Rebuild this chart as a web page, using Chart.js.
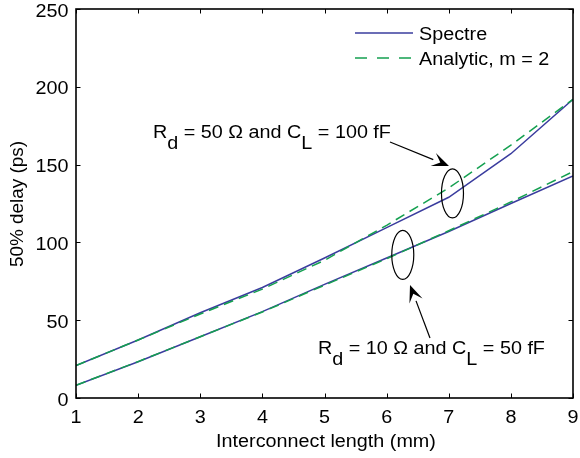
<!DOCTYPE html>
<html>
<head>
<meta charset="utf-8">
<script src="https://cdn.jsdelivr.net/npm/chart.js@4.4.0/dist/chart.umd.min.js"></script>
<style>
  html, body { margin: 0; padding: 0; background: #fff; }
  #wrap { width: 580px; height: 458px; }
</style>
</head>
<body>
<div id="wrap"><canvas id="myChart" width="580" height="458"></canvas></div>
<script>
// interconnect length (mm)
const lengths = [1, 2, 3, 4, 5, 6, 7, 8, 9];
// Rd = 50 ohm, CL = 100 fF
const spectreHigh = [20.8, 37.3, 54.8, 71, 90, 109.5, 129, 157, 192];
const analyticHigh = [20.8, 37.3, 54, 70, 88.5, 111, 135, 162.5, 192];
// Rd = 10 ohm, CL = 50 fF
const spectreLow = [8.2, 23.3, 39.4, 55.5, 73, 90, 107, 125, 142.7];
const analyticLow = [8.2, 23.4, 39.4, 55.3, 72.5, 89.5, 107.5, 126, 145.5];
const xTicks = [1, 2, 3, 4, 5, 6, 7, 8, 9];
const yTicks = [0, 50, 100, 150, 200, 250];

const FONT = '"Liberation Sans", Arial, Helvetica, sans-serif';
const BLUE = '#3a3c9e';
const GREEN = '#14a050';
const SX = 1.13; // the source picture is a bit wider than tall

function pts(ys) {
  return lengths.map((x, i) => ({ x: x, y: ys[i] }));
}

// frame, inward ticks, tick labels, legend and the two callouts
const decor = {
  id: 'decor',
  afterDraw(chart) {
    const ctx = chart.ctx;
    const xs = chart.scales.x, ys = chart.scales.y;
    const a = chart.chartArea;

    function txt(s, x, y, align, base) {
      ctx.save();
      ctx.translate(x, y);
      ctx.scale(SX, 1);
      ctx.textAlign = align || 'left';
      ctx.textBaseline = base || 'alphabetic';
      ctx.fillText(s, 0, 0);
      ctx.restore();
    }

    ctx.save();
    ctx.strokeStyle = '#000';
    ctx.lineWidth = 1.6;
    ctx.strokeRect(a.left, a.top, a.right - a.left, a.bottom - a.top);
    ctx.lineWidth = 1;
    ctx.beginPath();
    xTicks.forEach(v => {
      const px = Math.round(xs.getPixelForValue(v)) + 0.5;
      ctx.moveTo(px, a.bottom); ctx.lineTo(px, a.bottom - 4.5);
      ctx.moveTo(px, a.top); ctx.lineTo(px, a.top + 4.5);
    });
    yTicks.forEach(v => {
      const py = Math.round(ys.getPixelForValue(v)) + 0.5;
      ctx.moveTo(a.left, py); ctx.lineTo(a.left + 4.5, py);
      ctx.moveTo(a.right, py); ctx.lineTo(a.right - 4.5, py);
    });
    ctx.stroke();

    ctx.fillStyle = '#000';
    ctx.font = '17.5px ' + FONT;
    xTicks.forEach(v => txt(String(v), xs.getPixelForValue(v), 423, 'center'));
    yTicks.forEach(v => txt(String(v), 68.5, ys.getPixelForValue(v) + 7.5, 'right'));

    // axis titles
    txt('Interconnect length (mm)', 326, 446.5, 'center');
    ctx.save();
    ctx.translate(22.5, 204);
    ctx.rotate(-Math.PI / 2);
    ctx.scale(1.08, SX * 0.97);
    ctx.textAlign = 'center';
    ctx.fillText('50% delay (ps)', 0, 0);
    ctx.restore();

    // legend
    ctx.lineWidth = 1.5;
    ctx.strokeStyle = BLUE;
    ctx.beginPath(); ctx.moveTo(355, 33); ctx.lineTo(413, 33); ctx.stroke();
    txt('Spectre', 419, 39.5);
    ctx.strokeStyle = GREEN;
    ctx.setLineDash([12, 10]);
    ctx.beginPath(); ctx.moveTo(355, 58); ctx.lineTo(413, 58); ctx.stroke();
    ctx.setLineDash([]);
    txt('Analytic, m = 2', 419, 64.5);

    // ellipses
    ctx.strokeStyle = '#000';
    ctx.lineWidth = 1.2;
    [[7.06, 131.5], [6.26, 92]].forEach(c => {
      ctx.beginPath();
      ctx.ellipse(xs.getPixelForValue(c[0]), ys.getPixelForValue(c[1]), 11, 24.5, 0, 0, Math.PI * 2);
      ctx.stroke();
    });

    // arrows
    function arrow(x0, y0, x1, y1) {
      const ang = Math.atan2(y1 - y0, x1 - x0);
      const L = 17, W = 7;
      const bx = x1 - L * Math.cos(ang), by = y1 - L * Math.sin(ang);
      ctx.beginPath(); ctx.moveTo(x0, y0); ctx.lineTo(bx, by); ctx.stroke();
      ctx.beginPath();
      ctx.moveTo(x1, y1);
      ctx.lineTo(bx + W * Math.sin(ang), by - W * Math.cos(ang));
      ctx.lineTo(x1 - 0.55 * L * Math.cos(ang), y1 - 0.55 * L * Math.sin(ang));
      ctx.lineTo(bx - W * Math.sin(ang), by + W * Math.cos(ang));
      ctx.closePath();
      ctx.fill();
    }
    arrow(390, 142, 449, 166);
    arrow(430, 338, 410, 285);

    // callout labels with subscripts
    function label(x, y, parts) {
      parts.forEach(p => {
        txt(p[0], x, y + (p[1] ? 11 : 0));
        x += ctx.measureText(p[0]).width * SX;
      });
    }
    label(153, 138.3, [['R'], ['d', 1], [' = 50 \u03A9 and C'], ['L', 1], [' = 100 fF']]);
    label(318, 354.3, [['R'], ['d', 1], [' = 10 \u03A9 and C'], ['L', 1], [' = 50 fF']]);
    ctx.restore();
  }
};

const noPad = (s) => { s.paddingLeft = 0; s.paddingRight = 0; s.paddingTop = 0; s.paddingBottom = 0; };

const ctx = document.getElementById('myChart').getContext('2d');
const myChart = new Chart(ctx, {
  type: 'line',
  data: {
    datasets: [
      { label: 'Analytic, m = 2', data: pts(analyticHigh), borderColor: GREEN, borderDash: [10, 6] },
      { label: 'Analytic, m = 2 (low)', data: pts(analyticLow), borderColor: GREEN, borderDash: [10, 6] },
      { label: 'Spectre', data: pts(spectreHigh), borderColor: BLUE },
      { label: 'Spectre (low)', data: pts(spectreLow), borderColor: BLUE },
    ],
  },
  options: {
    responsive: false,
    animation: false,
    elements: {
      point: { radius: 0 },
      line: { borderWidth: 1.5, tension: 0, fill: false },
    },
    layout: { padding: { top: 9, right: 7, left: 0, bottom: 0 } },
    plugins: { legend: { display: false }, tooltip: { enabled: false } },
    scales: {
      x: {
        type: 'linear',
        min: 1,
        max: 9,
        afterBuildTicks: (s) => { s.ticks = xTicks.map(v => ({ value: v })); },
        afterFit: (s) => { s.height = 60; noPad(s); },
        grid: { display: false, drawTicks: false },
        border: { display: false },
        ticks: { display: false },
      },
      y: {
        min: 0,
        max: 250,
        afterBuildTicks: (s) => { s.ticks = yTicks.map(v => ({ value: v })); },
        afterFit: (s) => { s.width = 76; noPad(s); },
        grid: { display: false, drawTicks: false },
        border: { display: false },
        ticks: { display: false },
      },
    },
  },
  plugins: [decor],
});
</script>
</body>
</html>
